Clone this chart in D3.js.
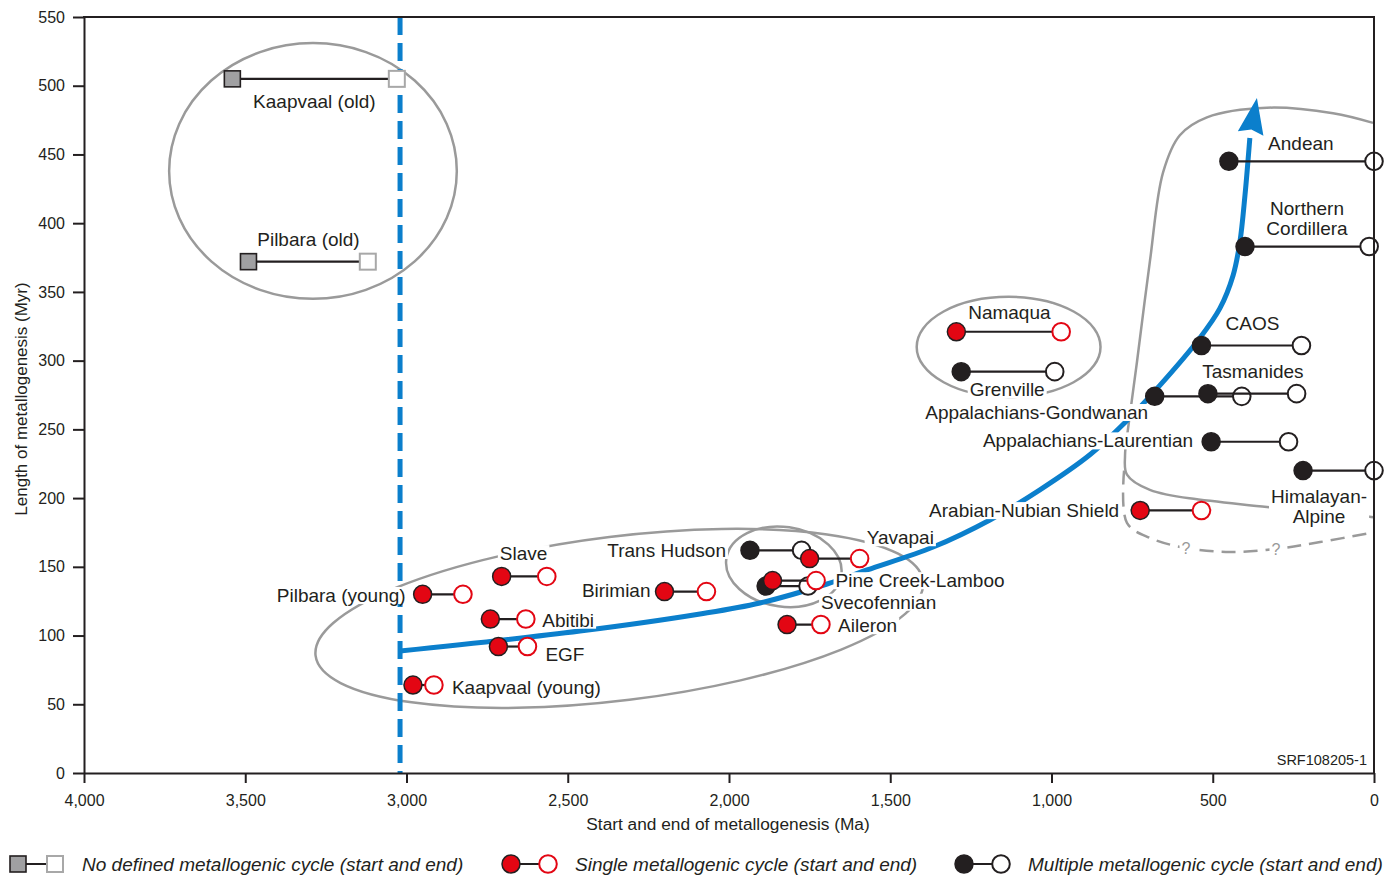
<!DOCTYPE html>
<html><head><meta charset="utf-8">
<script src="https://cdn.jsdelivr.net/npm/d3@7"></script>
<style>
body{margin:0;background:#fff;}
text{font-family:"Liberation Sans",Arial,Helvetica,sans-serif;fill:#231f20;}
</style></head><body>
<svg id="chart" width="1392" height="877"></svg>
<script>
// ---------- DATA ----------
const names = ["Kaapvaal (old)","Pilbara (old)","Pilbara (young)","Slave","Abitibi","EGF","Kaapvaal (young)","Birimian","Trans Hudson","Yavapai","Svecofennian","Pine Creek-Lamboo","Aileron","Namaqua","Grenville","Appalachians-Gondwanan","Tasmanides","CAOS","Appalachians-Laurentian","Himalayan-Alpine","Arabian-Nubian Shield","Andean","Northern Cordillera"];
const startMa   = [3540,3490,2950,2705,2740,2715,2980,2200,1935,1750,1885,1865,1820,1295,1280,680,515,535,505,220,725,450,400];
const endMa     = [3030,3120,2825,2565,2630,2625,2915,2070,1775,1595,1755,1730,1715,970,990,410,240,225,265,0,535,0,15];
const lengthMyr = [505,372,130,143,112,92,64,132,162,156,136,140,108,321,292,274,276,311,241,220,191,445,383];
const cycleType = ["none","none","single","single","single","single","single","single","multiple","single","multiple","single","single","single","multiple","multiple","multiple","multiple","multiple","multiple","single","multiple","multiple"];

const xTicks = [4000,3500,3000,2500,2000,1500,1000,500,0];
const yTicks = [0,50,100,150,200,250,300,350,400,450,500,550];

// blue trend curve (Ma, Myr) and its arrow tip
const trendMa  = [3020,2462,2090,1904,1696,1572,1367,1191,1036,881,772,664,540,478,437,416,400,385];
const trendMyr = [88.8,103.3,115.7,123.7,137.5,147.7,164.4,184.1,206,231.5,255,282,316.5,338,362,386,420.5,462];
const trendTip = [363,491];
const archeanLimitMa = 3020;

// grouping ellipses: centre (Ma, Myr), radii (Ma, Myr), rotation (deg)
const groupCx = [3290,2340,1830,1133];
const groupCy = [438,112.5,150,310];
const groupRx = [446,949,180,285];
const groupRy = [93,59.7,29,36.4];
const groupRot = [0,-7,8,0];

// Phanerozoic field outline (solid) and its uncertain base (dashed)
const fieldMa  = [3,127,332,518,602,654,695,735,763,772,766,695,332,65,3];
const fieldMyr = [473,480,484,477,464,437,372,299,250,231,217,206,193.5,188,186];
const baseMa   = [775,766,695,583,446,304,167,3];
const baseMyr  = [220,182,171,163.7,160.8,163,168,175];
const queryMa  = [583,304];
const queryMyr = [163.7,163];

const legendItems = ["No defined metallogenic cycle (start and end)","Single metallogenic cycle (start and end)","Multiple metallogenic cycle (start and end)"];
const legendTypes = ["none","single","multiple"];

// label layout (pixel offsets from the start marker)
const labelLayout = {
 "Kaapvaal (old)":[82,22,"middle"],"Pilbara (old)":[60,-22,"middle"],"Pilbara (young)":[-17,1,"end"],
 "Slave":[22,-23,"middle"],"Abitibi":[52,1,"start"],"EGF":[47,8,"start"],"Kaapvaal (young)":[39,2,"start"],
 "Birimian":[-14,-1,"end"],"Trans Hudson":[-24,0,"end"],"Yavapai":[57,-21,"start"],"Svecofennian":[55,16,"start"],
 "Pine Creek-Lamboo":[63,0,"start"],"Aileron":[51,1,"start"],"Namaqua":[53,-19,"middle"],"Grenville":[46,18,"middle"],
 "Appalachians-Gondwanan":[-118,16,"middle"],"Tasmanides":[45,-22,"middle"],"CAOS":[51,-22,"middle"],
 "Appalachians-Laurentian":[-18,-1,"end"],"Himalayan-Alpine":[16,26,"middle",["Himalayan-","Alpine"]],
 "Arabian-Nubian Shield":[-21,0,"end"],"Andean":[72,-18,"middle"],"Northern Cordillera":[62,-38,"middle",["Northern","Cordillera"]]
};

// ---------- STYLE ----------
const RED="#e30613", INK="#231f20", GREY="#9a9a9a", BLUE="#0b7fcc";
const svg = d3.select("#chart");
const x = d3.scaleLinear().domain([4000,0]).range([84,1374]);
const y = d3.scaleLinear().domain([0,550]).range([773,17]);

const gShapes = svg.append("g"), gTrend = svg.append("g"), gLabels = svg.append("g"),
      gLinks = svg.append("g"), gMarks = svg.append("g"), gAxes = svg.append("g");

// ellipses
groupCx.forEach((cx,i)=>{
  const px = x(cx), py = y(groupCy[i]);
  const rx = Math.abs(x(cx-groupRx[i]) - px), ry = Math.abs(y(groupCy[i]+groupRy[i]) - py);
  gShapes.append("ellipse").attr("cx",px).attr("cy",py).attr("rx",rx).attr("ry",ry)
    .attr("transform",`rotate(${groupRot[i]},${px},${py})`)
    .attr("fill","none").attr("stroke",GREY).attr("stroke-width",2.5);
});
const ln = d3.line().x(d=>x(d[0])).y(d=>y(d[1])).curve(d3.curveCatmullRom.alpha(0.5));
gShapes.append("path").attr("d",ln(fieldMa.map((m,i)=>[m,fieldMyr[i]])))
  .attr("fill","none").attr("stroke",GREY).attr("stroke-width",2.5);
gShapes.append("path").attr("d",ln(baseMa.map((m,i)=>[m,baseMyr[i]])))
  .attr("fill","none").attr("stroke",GREY).attr("stroke-width",2.5).attr("stroke-dasharray","14,8");

// archean limit
gTrend.append("line").attr("x1",x(archeanLimitMa)).attr("x2",x(archeanLimitMa)).attr("y1",y(550)).attr("y2",y(0))
  .attr("stroke",BLUE).attr("stroke-width",5).attr("stroke-dasharray","18,8");
// trend
const tpts = trendMa.map((m,i)=>[m,trendMyr[i]]);
gTrend.append("path").attr("d",ln(tpts)).attr("fill","none").attr("stroke",BLUE).attr("stroke-width",5);
{
  const last = tpts[tpts.length-1];
  const bx=x(last[0]), by=y(last[1]), tx=x(trendTip[0]), ty=y(trendTip[1]);
  const dx=tx-bx, dy=ty-by, L=Math.hypot(dx,dy), ux=dx/L, uy=dy/L, hw=13;
  const b2x=tx-ux*36, b2y=ty-uy*36;
  gTrend.append("path").attr("d",`M${tx},${ty}L${b2x-uy*hw},${b2y+ux*hw}L${b2x+ux*4},${b2y+uy*4}L${b2x+uy*hw},${b2y-ux*hw}Z`)
    .attr("fill",BLUE);
}

// labels with white backgrounds
function addLabel(g, px, py, lines, anchor, size, color){
  const grp = g.append("g");
  const t = grp.append("text").attr("text-anchor",anchor).attr("font-size",size).style("fill",color||INK);
  lines.forEach((s,k)=>t.append("tspan").attr("x",px).attr("y",py + k*size*1.05).attr("dy","0.35em").text(s));
  const bb = t.node().getBBox();
  grp.insert("rect","text").attr("x",bb.x-2).attr("y",bb.y+2).attr("width",bb.width+4).attr("height",bb.height-4).attr("fill","#fff");
}
names.forEach((n,i)=>{
  const L = labelLayout[n];
  addLabel(gLabels, x(startMa[i])+L[0], y(lengthMyr[i])+L[1], L[3]||[n], L[2], 19);
});
queryMa.forEach((m,i)=>addLabel(gLabels, x(m), y(queryMyr[i]), ["?"], "middle", 16, "#999"));

// connectors + markers
function drawMarker(g, px, py, type, isStart){
  if(type==="none"){
    g.append("rect").attr("x",px-8).attr("y",py-8).attr("width",16).attr("height",16)
      .attr("fill",isStart?"#a0a0a2":"#fff").attr("stroke",isStart?INK:"#a8a8a8").attr("stroke-width",isStart?1.6:2);
  } else {
    const c = type==="single"?RED:INK;
    g.append("circle").attr("cx",px).attr("cy",py).attr("r",isStart?9:8.8)
      .attr("fill",isStart?c:"#fff").attr("stroke",isStart?INK:c).attr("stroke-width",isStart?1.5:2);
  }
}
names.forEach((n,i)=>{
  const yy=y(lengthMyr[i]);
  const g = gMarks.append("g");
  g.append("line").attr("x1",x(startMa[i])).attr("x2",x(endMa[i])).attr("y1",yy).attr("y2",yy)
    .attr("stroke",INK).attr("stroke-width",2.2);
  drawMarker(g, x(endMa[i]), yy, cycleType[i], false);
  drawMarker(g, x(startMa[i]), yy, cycleType[i], true);
});

// axes
const xa = gAxes.append("g").attr("transform","translate(0,773)")
  .call(d3.axisBottom(x).tickValues(xTicks).tickFormat(d3.format(",")).tickSize(10).tickSizeOuter(0).tickPadding(12));
const ya = gAxes.append("g").attr("transform","translate(84,0)")
  .call(d3.axisLeft(y).tickValues(yTicks).tickSize(11).tickSizeOuter(0).tickPadding(8));
[xa,ya].forEach(a=>{
  a.selectAll("path,line").attr("stroke",INK).attr("stroke-width",2);
  a.selectAll("text").attr("font-size",16).style("font-family","Liberation Sans, Arial, sans-serif").attr("fill",INK);
});
gAxes.append("line").attr("x1",83).attr("x2",1375).attr("y1",17).attr("y2",17).attr("stroke",INK).attr("stroke-width",2);
gAxes.append("line").attr("x1",1374).attr("x2",1374).attr("y1",17).attr("y2",773).attr("stroke",INK).attr("stroke-width",2);

svg.append("text").attr("x",728).attr("y",830).attr("text-anchor","middle").attr("font-size",17.3).text("Start and end of metallogenesis (Ma)");
svg.append("text").attr("transform","translate(27,399) rotate(-90)").attr("text-anchor","middle").attr("font-size",17).text("Length of metallogenesis (Myr)");
svg.append("text").attr("x",1367).attr("y",765).attr("text-anchor","end").attr("font-size",14.5).text("SRF108205-1");

// legend
const legX = [18,511,964];
legendItems.forEach((s,i)=>{
  const g = svg.append("g"), cy=864, lx=legX[i];
  g.append("line").attr("x1",lx).attr("x2",lx+36).attr("y1",cy).attr("y2",cy).attr("stroke",INK).attr("stroke-width",2.2);
  drawMarker(g, lx+37, cy, legendTypes[i], false);
  drawMarker(g, lx, cy, legendTypes[i], true);
  g.append("text").attr("x",lx+64).attr("y",cy).attr("dy","0.35em").attr("font-size",19).attr("font-style","italic").text(s);
});
</script></body></html>
